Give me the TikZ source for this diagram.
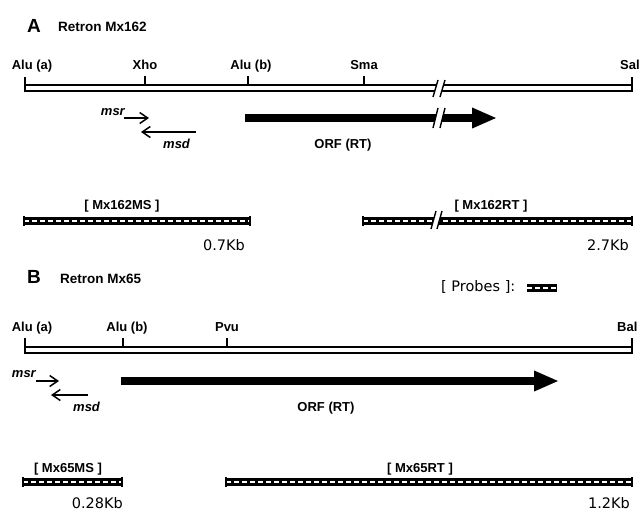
\documentclass[tikz,border=0pt]{standalone}
\usepackage{fontspec}
\setmainfont{Liberation Sans}
\newfontfamily\kbfont{DejaVu Sans}
\usetikzlibrary{arrows.meta}
\tikzset{
  panelletter/.style={font=\bfseries\fontsize{19}{21}\selectfont,inner sep=0pt,anchor=base west},
  paneltitle/.style={font=\bfseries\fontsize{13.5}{15}\selectfont,inner sep=0pt,anchor=base west},
  sitename/.style={font=\bfseries\fontsize{13}{15}\selectfont,inner sep=0pt,anchor=base},
  rnaname/.style={font=\bfseries\itshape\fontsize{13}{15}\selectfont,inner sep=0pt,anchor=base west},
  kblabel/.style={font=\kbfont\fontsize{14.5}{16}\selectfont,inner sep=0pt,anchor=base east},
  dnaline/.style={line width=1.4pt},
  sitetick/.style={line width=1.4pt},
  rnaarrow/.style={line width=1.5pt,-{Straight Barb[length=8pt,width=11pt,line width=1.5pt]}},
  orfarrow/.style={line width=7.5pt,-{Triangle[length=25pt,width=19pt]}},
  probebar/.style={line width=7.5pt,postaction={draw,white,line width=1.3pt,dash pattern=on 4.5pt off 3.5pt}},
  probeend/.style={line width=1.8pt},
}
% double slash where the map is cut
\newcommand\cutmark[4]{%
  \fill[white] (#1,#3) -- ({#1+#4},#3) -- ({#1+#4+5},#2) -- ({#1+5},#2) -- cycle;
  \draw[line width=1.4pt] (#1,#3) -- ({#1+5},#2);
  \draw[line width=1.4pt] ({#1+#4},#3) -- ({#1+#4+5},#2);
}
\begin{document}
\begin{tikzpicture}[x=1pt,y=-1pt]
\useasboundingbox (0,0) rectangle (639,512);
\node[panelletter] (letA) at (27,32) {A};
\node[paneltitle] (titleA) at (58,31) {Retron Mx162};
\node[sitename] (aluaA) at (32,69) {Alu (a)};
\node[sitename] (xhoA) at (145,69) {Xho};
\node[sitename] (alubA) at (251,69) {Alu (b)};
\node[sitename] (smaA) at (364,69) {Sma};
\node[sitename,anchor=base west] (salA) at (620,69) {Sal};
\draw[dnaline] (25,85) rectangle (632,91);
\draw[sitetick] (25,77) -- (25,85);
\draw[sitetick] (632,77) -- (632,85);
\foreach \x in {145,248,364}
  \draw[sitetick] (\x,76) -- (\x,85);
\cutmark{433}{80}{97}{7}
\node[rnaname,anchor=base east] (msrA) at (125,115) {msr};
\coordinate (msrAs) at (124,118);
\coordinate (msrAe) at (149,118);
\draw[rnaarrow] (msrAs) -- (msrAe);
\coordinate (msdAs) at (196,132);
\coordinate (msdAe) at (141,132);
\draw[rnaarrow] (msdAs) -- (msdAe);
\node[rnaname] (msdA) at (163,148) {msd};
\coordinate (orfAs) at (245,118);
\coordinate (orfAe) at (497,118);
\draw[orfarrow] (orfAs) -- (orfAe);
\cutmark{433}{108}{128}{7}
\node[sitename] (orfnameA) at (343,148) {ORF (RT)};
% probes of Mx162
\node[sitename] (msnameA) at (122,209) {[ Mx162MS ]};
\coordinate (msbarAs) at (24,221);
\coordinate (msbarAe) at (250,221);
\draw[probebar] (msbarAs) -- (msbarAe);
\draw[probeend] (24,216) -- (24,226) (250,216) -- (250,226);
\node[kblabel] (kbmsA) at (245,250) {0.7Kb};
\node[sitename] (rtnameA) at (491,209) {[ Mx162RT ]};
\coordinate (rtbarAs) at (363,221);
\coordinate (rtbarAe) at (632,221);
\draw[probebar] (rtbarAs) -- (rtbarAe);
\draw[probeend] (363,216) -- (363,226) (632,216) -- (632,226);
\cutmark{431}{211}{229}{6}
\node[kblabel] (kbrtA) at (629,250) {2.7Kb};
% legend
\node[kblabel,anchor=base west] (probes) at (441,291) {[ Probes ]:};
\coordinate (swatchs) at (527,288);
\coordinate (swatche) at (557,288);
\draw[probebar] (swatchs) -- (swatche);
% panel B
\node[panelletter] (letB) at (27,283) {B};
\node[paneltitle] (titleB) at (60,283) {Retron Mx65};
\node[sitename] (aluaB) at (32,331) {Alu (a)};
\node[sitename] (alubB) at (127,331) {Alu (b)};
\node[sitename] (pvuB) at (227,331) {Pvu};
\node[sitename,anchor=base west] (balB) at (617,331) {Bal};
\draw[dnaline] (25,347) rectangle (632,353);
\draw[sitetick] (25,338) -- (25,347);
\draw[sitetick] (632,338) -- (632,347);
\foreach \x in {123,227}
  \draw[sitetick] (\x,338) -- (\x,347);
\node[rnaname,anchor=base east] (msrB) at (36,377) {msr};
\coordinate (msrBs) at (36,381);
\coordinate (msrBe) at (59,381);
\draw[rnaarrow] (msrBs) -- (msrBe);
\coordinate (msdBs) at (88,395);
\coordinate (msdBe) at (51,395);
\draw[rnaarrow] (msdBs) -- (msdBe);
\node[rnaname] (msdB) at (73,411) {msd};
\coordinate (orfBs) at (121,381);
\coordinate (orfBe) at (559,381);
\draw[orfarrow] (orfBs) -- (orfBe);
\node[sitename] (orfnameB) at (326,411) {ORF (RT)};
% probes of Mx65
\node[sitename] (msnameB) at (68,472) {[ Mx65MS ]};
\coordinate (msbarBs) at (23,482);
\coordinate (msbarBe) at (122,482);
\draw[probebar] (msbarBs) -- (msbarBe);
\draw[probeend] (23,477) -- (23,487) (122,477) -- (122,487);
\node[kblabel] (kbmsB) at (123,508) {0.28Kb};
\node[sitename] (rtnameB) at (420,472) {[ Mx65RT ]};
\coordinate (rtbarBs) at (226,482);
\coordinate (rtbarBe) at (632,482);
\draw[probebar] (rtbarBs) -- (rtbarBe);
\draw[probeend] (226,477) -- (226,487) (632,477) -- (632,487);
\node[kblabel] (kbrtB) at (630,508) {1.2Kb};
\end{tikzpicture}
\end{document}
